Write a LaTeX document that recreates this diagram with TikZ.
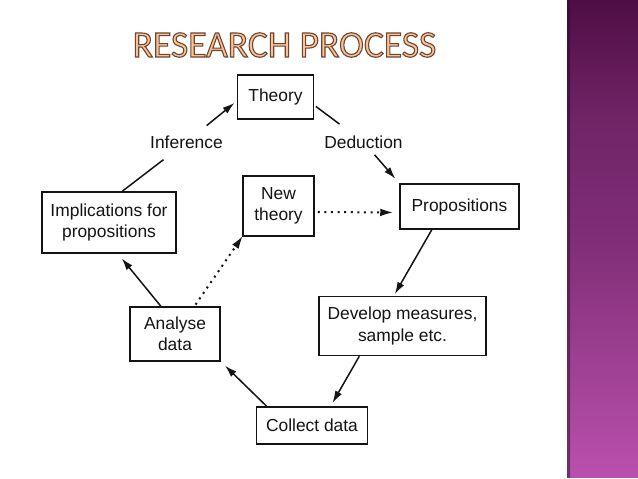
\documentclass[tikz,border=0pt]{standalone}
\usepackage{fontspec}
\setmainfont{Liberation Sans}
\newfontfamily\titlefont{Carlito}
\usetikzlibrary{arrows.meta}
\definecolor{bandtop}{RGB}{78,14,68}
\definecolor{bandmid}{RGB}{128,46,118}
\definecolor{bandbot}{RGB}{186,80,174}
\definecolor{titlefill}{RGB}{248,196,150}
\definecolor{ink}{RGB}{20,20,20}
\tikzset{
  box/.style={draw=ink, line width=1.5pt, inner sep=0pt, align=center, text=ink,
    font=\fontsize{17.4}{21.5}\selectfont},
  lbl/.style={inner sep=0pt, text=ink, font=\fontsize{17.4}{21.5}\selectfont},
  conn/.style={draw=ink, line width=1.5pt},
  arr/.style={conn, -{Latex[length=12pt,width=7.5pt]}},
  dotarr/.style={draw=ink, line width=2pt, dash pattern=on 2pt off 4.6pt,
    -{Latex[length=12pt,width=7.5pt,line width=0pt]}},
}
\begin{document}
\begin{tikzpicture}[x=1pt,y=-1pt]
\useasboundingbox (0,0) rectangle (638,479);
\fill[white] (0,0) rectangle (638,479);
% right band
\shade[top color=bandtop, bottom color=bandmid, middle color=bandmid!70!bandtop, shading angle=0] (568,0) rectangle (638,240);
\shade[top color=bandmid, bottom color=bandbot] (568,240) rectangle (638,477);
\shade[top color=bandtop!80!black, bottom color=bandbot!60!black] (567,0) rectangle (570,477);
% title
\node[inner sep=0pt, anchor=center] (title) at (284.5,45)
  {\titlefont\fontsize{37.5}{37.5}\selectfont\textcolor{titlefill}{\special{pdf:literal direct 0.43 0.27 0.2 RG 2 Tr 1.1 w}RESEARCH PROCESS\special{pdf:literal direct 0 Tr}}};
% boxes
\node[box, minimum width=76pt, minimum height=44pt] (theory) at (275.5,97) {Theory};
\node[box, minimum width=134pt, minimum height=61pt] (impl) at (109,222.5) {Implications for\\propositions};
\node[box, minimum width=71pt, minimum height=60pt] (newth) at (278.5,206) {New\\theory};
\node[box, minimum width=119pt, minimum height=45pt] (props) at (459.5,206.5) {Propositions};
\node[box, minimum width=167pt, minimum height=59pt] (dev) at (402.5,326) {Develop measures,\\sample etc.};
\node[box, minimum width=90pt, minimum height=54pt] (anal) at (175,334) {Analyse\\data};
\node[box, minimum width=111pt, minimum height=37pt] (coll) at (312,425.5) {Collect data};
% labels
\node[lbl] (inf) at (186.5,142) {Inference};
\node[lbl] (ded) at (363.5,142) {Deduction};
% connectors
\draw[conn, shorten >=29pt] (impl.67) -- (inf.center);
\draw[arr, shorten <=26pt, shorten >=3pt] (inf.center) -- (theory.186);
\draw[conn, shorten <=2pt, shorten >=30pt] (theory.-12) -- (ded.center);
\draw[arr, shorten <=17pt, shorten >=6pt] (ded.center) -- (props.north west);
\draw[dotarr, shorten <=3pt, shorten >=7pt] ([yshift=-6pt]newth.east) -- ([yshift=-6pt]props.west);
\draw[arr, shorten >=2pt] (props.220) -- (dev.106);
\draw[arr, shorten >=4pt] (dev.215) -- (coll.46);
\draw[arr, shorten >=6pt] (coll.157) -- (anal.-31);
\draw[arr, shorten >=6pt] (anal.117) -- (impl.-74);
\draw[dotarr, shorten <=2pt] (anal.55) -- (newth.south west);
\end{tikzpicture}
\end{document}
